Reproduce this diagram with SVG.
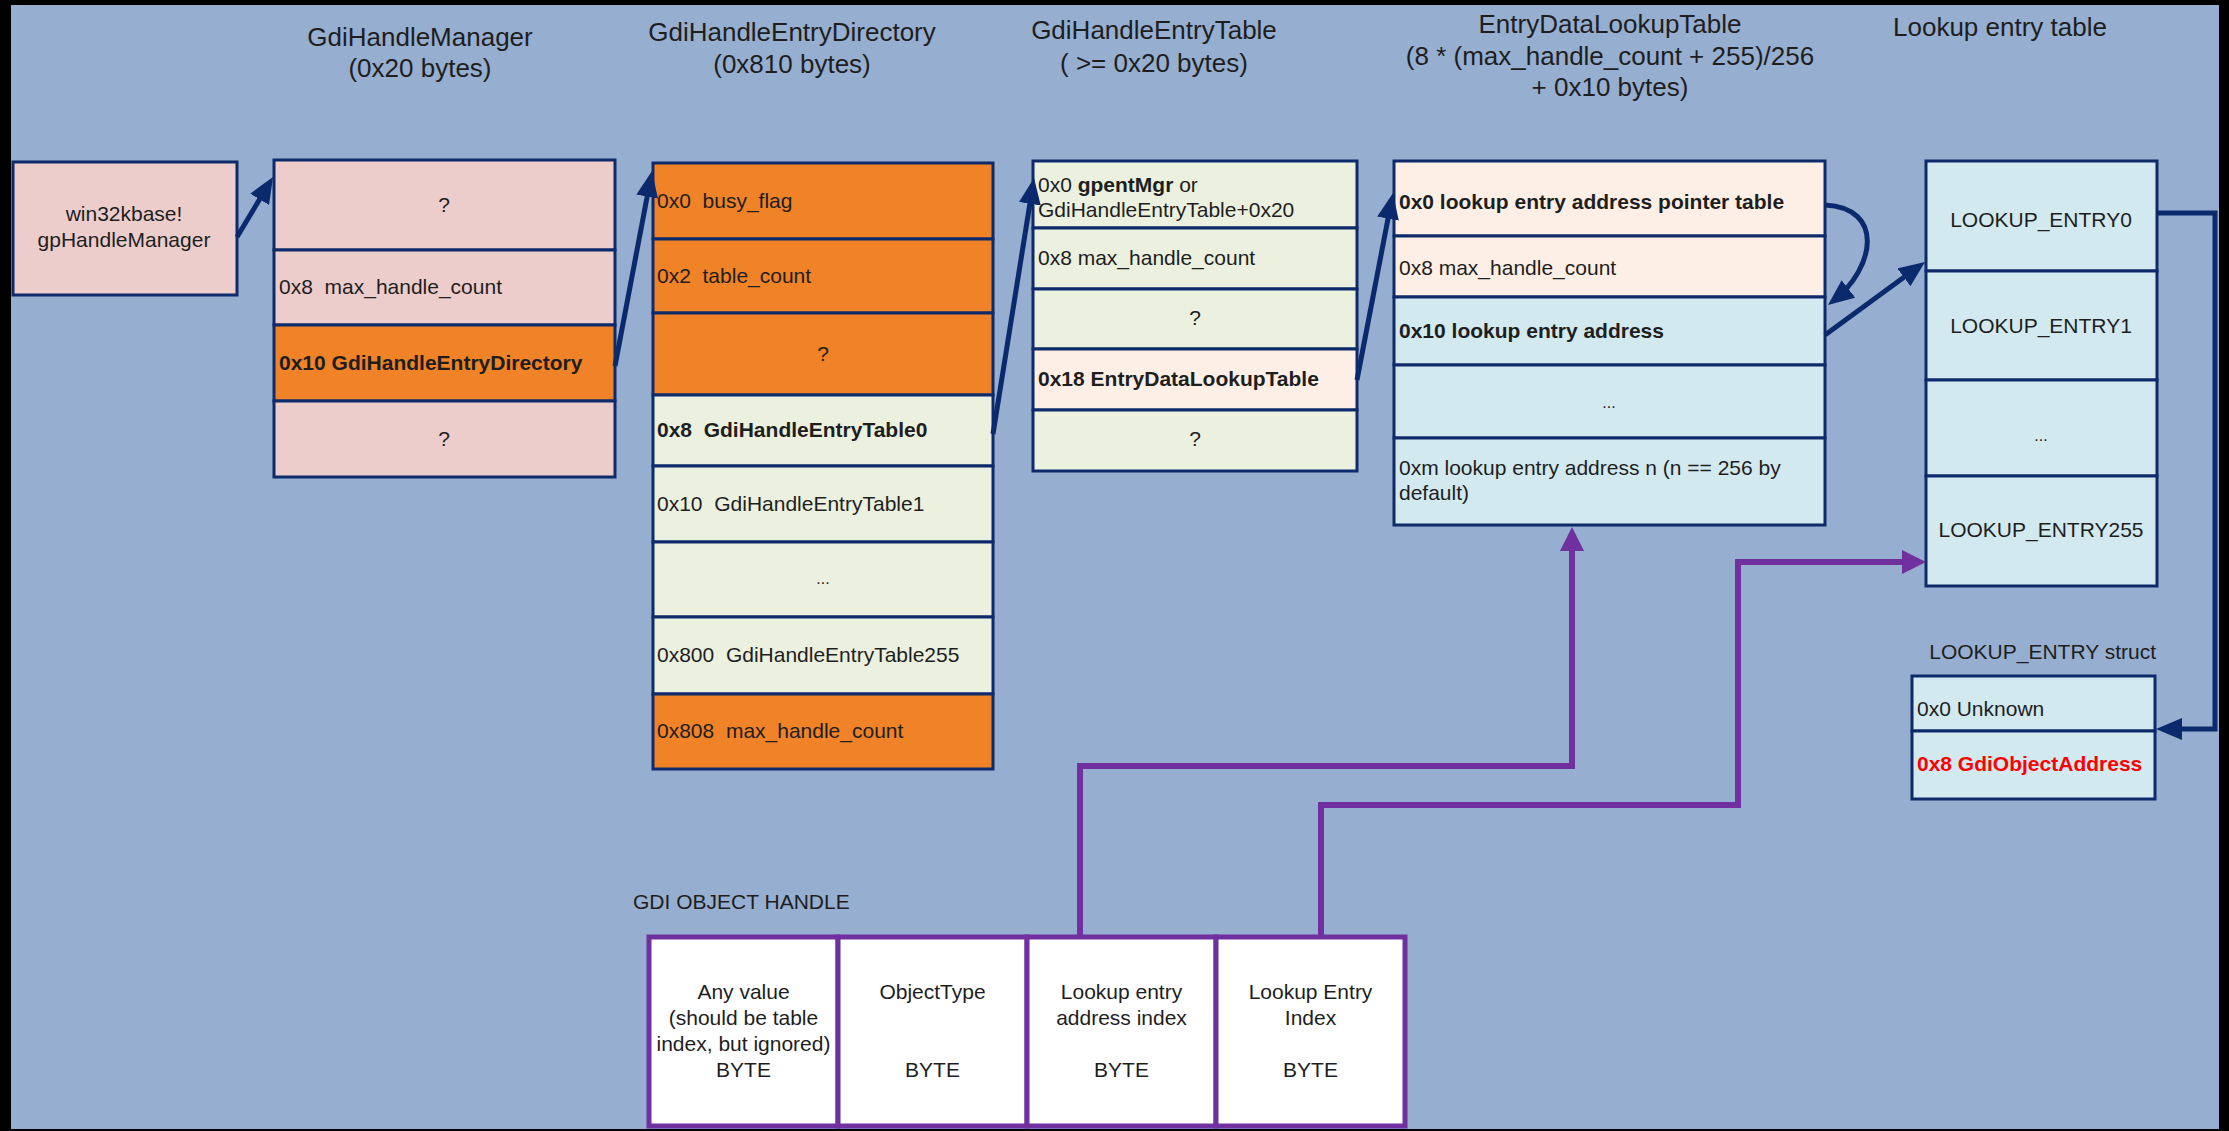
<svg xmlns="http://www.w3.org/2000/svg" width="2229" height="1131" viewBox="0 0 2229 1131">
<defs>
<style>
text{font-family:"Liberation Sans",Arial,sans-serif;fill:#1e1e1e;white-space:pre}
.t{font-size:21px}
.ti{font-size:26px;text-anchor:middle}
.c{text-anchor:middle}
.b{font-weight:bold}
.red{fill:#ff0000}
.cell{stroke:#0f2a6b;stroke-width:3}
.pink{fill:#edcdcc}
.orange{fill:#f08228}
.green{fill:#ebf0df}
.peach{fill:#fdefe5}
.blue{fill:#d2e9f0}
.hcell{fill:#ffffff;stroke:#7030a0;stroke-width:5}
.conn{fill:none;stroke:#0b2a6e;stroke-width:5}
.pconn{fill:none;stroke:#7030a0;stroke-width:6}
</style>
<marker id="ah" viewBox="0 0 26 22" refX="19" refY="11" markerWidth="26" markerHeight="22" markerUnits="userSpaceOnUse" orient="auto">
<path d="M0,0 L26,11 L0,22 z" fill="#0b2a6e"/>
</marker>
<marker id="ph" viewBox="0 0 24 24" refX="17" refY="12" markerWidth="24" markerHeight="24" markerUnits="userSpaceOnUse" orient="auto">
<path d="M0,0 L24,12 L0,24 z" fill="#7030a0"/>
</marker>
</defs>
<rect x="0" y="0" width="2229" height="1131" fill="#000000"/>
<rect x="11" y="5" width="2208" height="1124" fill="#96aecf"/>

<g id="titles">
<text class="ti" x="420" y="46">GdiHandleManager</text>
<text class="ti" x="420" y="77">(0x20 bytes)</text>
<text class="ti" x="792" y="41">GdiHandleEntryDirectory</text>
<text class="ti" x="792" y="73">(0x810 bytes)</text>
<text class="ti" x="1154" y="39">GdiHandleEntryTable</text>
<text class="ti" x="1154" y="72">( &gt;= 0x20 bytes)</text>
<text class="ti" x="1610" y="33">EntryDataLookupTable</text>
<text class="ti" x="1610" y="65">(8 * (max_handle_count + 255)/256</text>
<text class="ti" x="1610" y="96">+ 0x10 bytes)</text>
<text class="ti" x="2000" y="36">Lookup entry table</text>
</g>

<g id="gpHandleManager">
<rect class="cell pink" x="13" y="162" width="224" height="133"/>
<text class="t c" x="124" y="221">win32kbase!</text>
<text class="t c" x="124" y="247">gpHandleManager</text>
</g>

<g id="GdiHandleManager">
<rect class="cell pink" x="274" y="160" width="341" height="90"/>
<rect class="cell pink" x="274" y="250" width="341" height="75"/>
<rect class="cell orange" x="274" y="325" width="341" height="76"/>
<rect class="cell pink" x="274" y="401" width="341" height="76"/>
<text class="t c" x="444" y="212">?</text>
<text class="t" x="279" y="294">0x8  max_handle_count</text>
<text class="t b" x="279" y="370">0x10 GdiHandleEntryDirectory</text>
<text class="t c" x="444" y="446">?</text>
</g>

<g id="GdiHandleEntryDirectory">
<rect class="cell orange" x="653" y="163" width="340" height="76"/>
<rect class="cell orange" x="653" y="239" width="340" height="74"/>
<rect class="cell orange" x="653" y="313" width="340" height="82"/>
<rect class="cell green" x="653" y="395" width="340" height="71"/>
<rect class="cell green" x="653" y="466" width="340" height="76"/>
<rect class="cell green" x="653" y="542" width="340" height="75"/>
<rect class="cell green" x="653" y="617" width="340" height="77"/>
<rect class="cell orange" x="653" y="694" width="340" height="75"/>
<text class="t" x="657" y="208">0x0  busy_flag</text>
<text class="t" x="657" y="283">0x2  table_count</text>
<text class="t c" x="823" y="361">?</text>
<text class="t b" x="657" y="437">0x8  GdiHandleEntryTable0</text>
<text class="t" x="657" y="511">0x10  GdiHandleEntryTable1</text>
<text class="c" style="font-size:16px" x="823" y="584">...</text>
<text class="t" x="657" y="662">0x800  GdiHandleEntryTable255</text>
<text class="t" x="657" y="738">0x808  max_handle_count</text>
</g>

<g id="GdiHandleEntryTable">
<rect class="cell green" x="1033" y="161" width="324" height="67"/>
<rect class="cell green" x="1033" y="228" width="324" height="61"/>
<rect class="cell green" x="1033" y="289" width="324" height="60"/>
<rect class="cell peach" x="1033" y="349" width="324" height="61"/>
<rect class="cell green" x="1033" y="410" width="324" height="61"/>
<text class="t" x="1038" y="192">0x0 <tspan class="b">gpentMgr</tspan> or</text>
<text class="t" x="1038" y="217">GdiHandleEntryTable+0x20</text>
<text class="t" x="1038" y="265">0x8 max_handle_count</text>
<text class="t c" x="1195" y="325">?</text>
<text class="t b" x="1038" y="386">0x18 EntryDataLookupTable</text>
<text class="t c" x="1195" y="446">?</text>
</g>

<g id="EntryDataLookupTable">
<rect class="cell peach" x="1394" y="161" width="431" height="75"/>
<rect class="cell peach" x="1394" y="236" width="431" height="61"/>
<rect class="cell blue" x="1394" y="297" width="431" height="68"/>
<rect class="cell blue" x="1394" y="365" width="431" height="73"/>
<rect class="cell blue" x="1394" y="438" width="431" height="87"/>
<text class="t b" x="1399" y="209">0x0 lookup entry address pointer table</text>
<text class="t" x="1399" y="275">0x8 max_handle_count</text>
<text class="t b" x="1399" y="338">0x10 lookup entry address</text>
<text class="c" style="font-size:16px" x="1609" y="408">...</text>
<text class="t" x="1399" y="475">0xm lookup entry address n (n == 256 by</text>
<text class="t" x="1399" y="500">default)</text>
</g>

<g id="LookupEntryTable">
<rect class="cell blue" x="1926" y="161" width="231" height="110"/>
<rect class="cell blue" x="1926" y="271" width="231" height="109"/>
<rect class="cell blue" x="1926" y="380" width="231" height="96"/>
<rect class="cell blue" x="1926" y="476" width="231" height="110"/>
<text class="t c" x="2041" y="227">LOOKUP_ENTRY0</text>
<text class="t c" x="2041" y="333">LOOKUP_ENTRY1</text>
<text class="c" style="font-size:16px" x="2041" y="441">...</text>
<text class="t c" x="2041" y="537">LOOKUP_ENTRY255</text>
</g>

<g id="LookupEntryStruct">
<text class="t" style="text-anchor:end" x="2156" y="659">LOOKUP_ENTRY struct</text>
<rect class="cell blue" x="1912" y="676" width="243" height="55"/>
<rect class="cell blue" x="1912" y="731" width="243" height="68"/>
<text class="t" x="1917" y="716">0x0 Unknown</text>
<text class="t b red" x="1917" y="771">0x8 GdiObjectAddress</text>
</g>

<g id="GdiObjectHandle">
<text class="t" x="633" y="909">GDI OBJECT HANDLE</text>
<rect class="hcell" x="649" y="937" width="189" height="189"/>
<rect class="hcell" x="838" y="937" width="189" height="189"/>
<rect class="hcell" x="1027" y="937" width="189" height="189"/>
<rect class="hcell" x="1216" y="937" width="189" height="189"/>
<text class="t c" x="743.5" y="999">Any value</text>
<text class="t c" x="743.5" y="1025">(should be table</text>
<text class="t c" x="743.5" y="1051">index, but ignored)</text>
<text class="t c" x="743.5" y="1077">BYTE</text>
<text class="t c" x="932.5" y="999">ObjectType</text>
<text class="t c" x="932.5" y="1077">BYTE</text>
<text class="t c" x="1121.5" y="999">Lookup entry</text>
<text class="t c" x="1121.5" y="1025">address index</text>
<text class="t c" x="1121.5" y="1077">BYTE</text>
<text class="t c" x="1310.5" y="999">Lookup Entry</text>
<text class="t c" x="1310.5" y="1025">Index</text>
<text class="t c" x="1310.5" y="1077">BYTE</text>
</g>

<g id="connectors">
<path class="conn" marker-end="url(#ah)" d="M237,237 L269.4,183"/>
<path class="conn" marker-end="url(#ah)" d="M615,366 L650.7,178"/>
<path class="conn" marker-end="url(#ah)" d="M993,434 L1032.9,185"/>
<path class="conn" marker-end="url(#ah)" d="M1357,380 L1391.6,200"/>
<path class="conn" marker-end="url(#ah)" d="M1825,205 C1885,208 1875,268 1833.5,300.7"/>
<path class="conn" marker-end="url(#ah)" d="M1825,335 L1919.3,266.1"/>
<path class="conn" marker-end="url(#ah)" d="M2157,213 H2215 V729 H2163"/>
<path class="pconn" marker-end="url(#ph)" d="M1080,936 V766 H1572 V534"/>
<path class="pconn" marker-end="url(#ph)" d="M1321,936 V805 H1738 V562 H1919"/>
</g>
</svg>
